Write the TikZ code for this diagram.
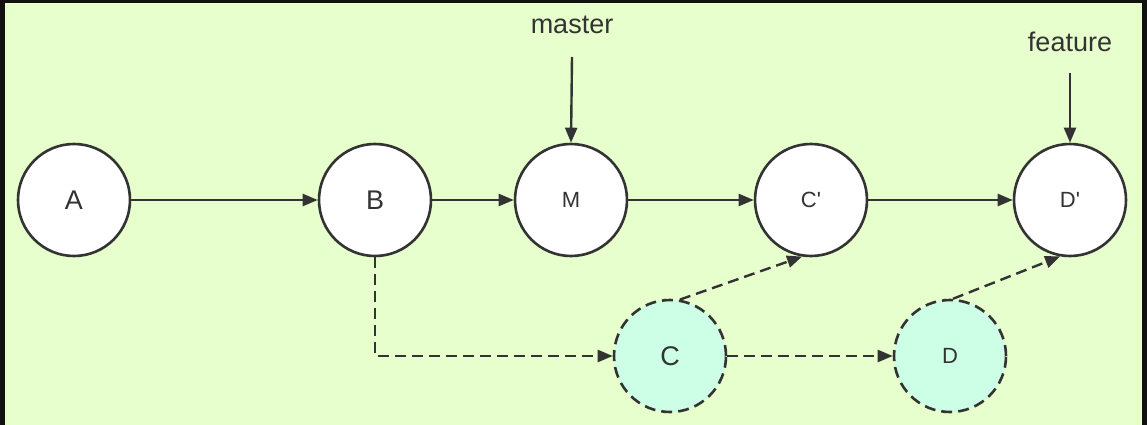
\documentclass[tikz,border=0pt]{standalone}
\usepackage{fontspec}
\newfontfamily\nf{Liberation Sans}
\usetikzlibrary{arrows.meta}
\definecolor{bg}{HTML}{E6FFCC}
\definecolor{cy}{HTML}{CCFFE6}
\definecolor{ln}{HTML}{333333}
\definecolor{frame}{HTML}{111111}
\begin{document}
\begin{tikzpicture}[x=1pt,y=-1pt,
  commit/.style={circle,draw=ln,line width=2.6pt,fill=white,minimum size=112pt,inner sep=0pt,text=ln},
  moved/.style={commit,fill=cy,dash pattern=on 11pt off 6pt},
  conn/.style={draw=ln,line width=2.4pt,-{Triangle[length=15pt,width=12pt]}},
  dconn/.style={conn,dash pattern=on 11pt off 6pt},
  lbl/.style={text=ln,font=\nf\fontsize{27}{30}\selectfont},
  big/.style={font=\nf\fontsize{27}{30}\selectfont},
  small/.style={font=\nf\fontsize{22}{26}\selectfont}]
\useasboundingbox (0,0) rectangle (1147,425);
\fill[frame] (0,0) rectangle (1147,425);
\fill[bg] (5,3) rectangle (1142,425);
\node[commit,big] (A) at (74,200) {A};
\node[commit,big] (B) at (375,200) {B};
\node[commit,small] (M) at (571,200) {M};
\node[commit,small] (Cp) at (811,200) {C'};
\node[commit,small] (Dp) at (1070,200) {D'};
\node[moved,big] (C) at (670,356) {C};
\node[moved,small] (D) at (950,356) {D};
\node[lbl] (master) at (572,25) {master};
\node[lbl] (feature) at (1070,42) {feature};
\coordinate (ms) at (572,57);
\coordinate (fs) at (1070,73);
\draw[conn] (A) -- (B);
\draw[conn] (B) -- (M);
\draw[conn] (M) -- (Cp);
\draw[conn] (Cp) -- (Dp);
\draw[conn] (ms) -- (M.north);
\draw[conn] (fs) -- (Dp.north);
\draw[dconn] (B.south) |- (C.west);
\draw[dconn] (C) -- (D);
\draw[dconn] (C.80) -- (Cp.-99);
\draw[dconn] (D.87) -- (Dp.-100);
\end{tikzpicture}
\end{document}
